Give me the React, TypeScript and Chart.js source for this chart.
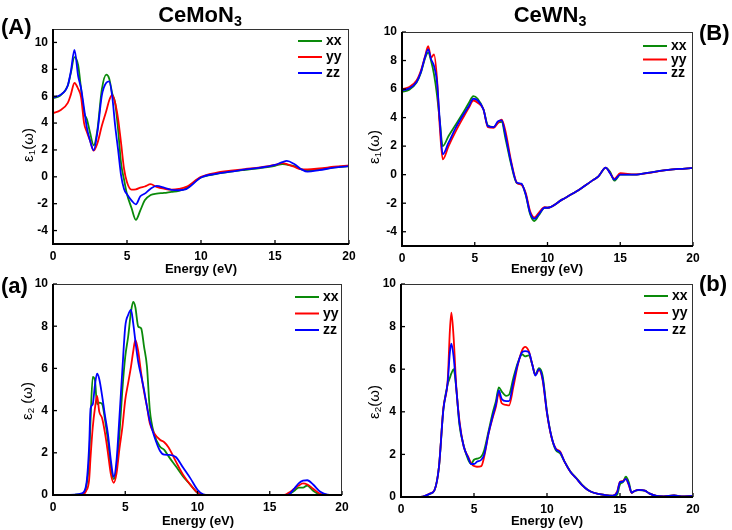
import React, { useEffect, useRef } from 'react';
import { Chart, registerables } from 'chart.js';
Chart.register(...registerables);

// ---------- DATA ----------
const seriesLabels = ['xx', 'yy', 'zz'];
const seriesColors = ['#0a8a0a', '#ff0000', '#0000ff'];
const xTickValues = [0, 5, 10, 15, 20];
const eps1Ticks = [-4, -2, 0, 2, 4, 6, 8, 10];
const eps2Ticks = [0, 2, 4, 6, 8, 10];

// (A) CeMoN3, epsilon_1
const energyA = [0, 0.5, 1.0, 1.2, 1.45, 1.7, 1.9, 2.1, 2.3, 2.5, 2.75, 3.0, 3.3, 3.6, 3.8, 4.0, 4.2, 4.4, 4.6, 4.8, 5.0, 5.3, 5.6, 5.9, 6.2, 6.6, 7.0, 7.5, 8.0, 8.5, 9.0, 10, 11, 12, 13, 14, 15, 15.5, 15.8, 16.3, 16.8, 17.2, 18, 19, 20];
const xxA = [5.85, 6.05, 6.8, 7.7, 8.9, 8.3, 6.5, 4.8, 4.25, 3.3, 2.35, 3.5, 6.5, 7.6, 7.3, 6.2, 5.5, 3.5, 1.0, -0.2, -1.3, -2.3, -3.2, -2.5, -1.75, -1.35, -1.25, -1.2, -1.12, -1.05, -0.85, -0.05, 0.2, 0.38, 0.52, 0.65, 0.82, 0.95, 0.9, 0.8, 0.55, 0.45, 0.55, 0.7, 0.8];
const yyA = [4.75, 4.95, 5.5, 6.1, 6.98, 6.55, 5.9, 4.0, 3.3, 2.7, 1.95, 2.5, 3.8, 4.9, 5.7, 6.1, 5.5, 4.3, 2.5, 0.6, -0.4, -0.95, -0.93, -0.8, -0.72, -0.55, -0.75, -0.88, -0.95, -0.9, -0.75, 0.0, 0.3, 0.45, 0.58, 0.7, 0.88, 1.02, 0.95, 0.75, 0.55, 0.55, 0.62, 0.75, 0.85];
const zzA = [5.9, 6.1, 6.8, 7.8, 9.45, 7.5, 6.56, 5.07, 3.58, 2.71, 1.97, 3.33, 6.06, 7.0, 7.1, 6.0, 3.8, 2.0, 0.11, -0.9, -1.3, -1.75, -2.05, -1.45, -1.25, -0.88, -0.68, -0.8, -0.97, -1.0, -0.92, -0.05, 0.22, 0.38, 0.55, 0.68, 0.88, 1.1, 1.18, 0.95, 0.55, 0.38, 0.5, 0.68, 0.8];

// (B) CeWN3, epsilon_1
const energyB = [0, 0.5, 1.0, 1.3, 1.6, 1.8, 2.0, 2.2, 2.4, 2.6, 2.8, 3.2, 3.7, 4.2, 4.6, 4.9, 5.2, 5.6, 5.9, 6.3, 6.6, 6.85, 7.1, 7.5, 7.9, 8.2, 8.5, 8.8, 9.1, 9.4, 9.8, 10, 11, 12, 13, 13.5, 14, 14.3, 14.6, 15, 16, 17, 18, 19, 20];
const xxB = [5.8, 5.95, 6.45, 7.15, 8.2, 8.55, 7.96, 7.03, 5.63, 3.75, 2.0, 2.71, 3.52, 4.34, 5.04, 5.51, 5.32, 4.57, 3.45, 3.33, 3.64, 3.7, 2.59, 0.72, -0.6, -0.65, -1.4, -2.75, -3.25, -2.85, -2.32, -2.32, -1.75, -1.17, -0.47, -0.12, 0.48, 0.2, -0.42, 0.0, 0.0, 0.15, 0.3, 0.4, 0.47];
const yyB = [6.0, 6.15, 6.6, 7.3, 8.35, 9.01, 8.2, 8.43, 6.8, 3.3, 1.07, 2.0, 3.05, 3.99, 4.7, 5.2, 5.04, 4.57, 3.33, 3.29, 3.64, 3.85, 3.1, 0.95, -0.57, -0.7, -1.27, -2.55, -3.0, -2.67, -2.28, -2.32, -1.75, -1.17, -0.47, -0.12, 0.5, 0.1, -0.3, 0.1, 0.02, 0.12, 0.3, 0.4, 0.47];
const zzB = [5.9, 6.05, 6.5, 7.2, 8.3, 8.78, 8.09, 7.62, 6.56, 3.75, 1.42, 2.24, 3.3, 4.18, 4.81, 5.32, 5.2, 4.57, 3.4, 3.33, 3.75, 3.8, 2.82, 0.84, -0.57, -0.63, -1.38, -2.66, -3.09, -2.79, -2.32, -2.32, -1.75, -1.17, -0.47, -0.12, 0.5, 0.1, -0.35, 0.0, 0.0, 0.15, 0.3, 0.4, 0.47];

// (a) CeMoN3, epsilon_2
const energyLa = [1.0, 1.5, 2.0, 2.3, 2.5, 2.6, 2.75, 2.9, 3.05, 3.2, 3.4, 3.6, 3.8, 4.0, 4.2, 4.4, 4.6, 4.8, 5.0, 5.2, 5.4, 5.55, 5.7, 5.9, 6.1, 6.3, 6.5, 6.7, 7.0, 7.4, 7.7, 8.0, 8.5, 9.0, 9.5, 10.0, 10.4, 10.8, 12, 14, 16, 16.3, 16.7, 17.0, 17.3, 17.6, 18.0, 18.5, 19.0, 20];
const xxLa = [0, 0.01, 0.05, 0.4, 1.67, 3.56, 5.6, 5.45, 4.3, 4.38, 4.32, 3.56, 2.6, 1.35, 0.75, 1.3, 2.9, 4.98, 6.56, 7.5, 8.69, 9.15, 8.9, 7.98, 7.9, 7.03, 6.1, 4.04, 2.9, 2.3, 2.14, 1.83, 1.36, 0.88, 0.49, 0.1, 0.01, 0, 0, 0, 0, 0.03, 0.2, 0.35, 0.35, 0.45, 0.2, 0.02, 0, 0];
const yyLa = [0, 0, 0.02, 0.2, 0.72, 1.8, 3.2, 4.1, 4.7, 3.95, 3.64, 2.93, 2.0, 1.0, 0.58, 1.04, 2.2, 3.2, 4.51, 5.3, 6.1, 6.8, 7.35, 6.8, 5.77, 4.9, 4.2, 3.4, 2.93, 2.62, 2.5, 2.25, 1.59, 0.96, 0.49, 0.12, 0.01, 0, 0, 0, 0, 0.1, 0.3, 0.45, 0.55, 0.5, 0.3, 0.05, 0, 0];
const zzLa = [0, 0.02, 0.08, 0.49, 2.3, 4.1, 4.3, 5.2, 5.75, 5.5, 4.7, 3.75, 2.9, 1.67, 0.85, 1.67, 3.72, 5.93, 7.98, 8.53, 8.77, 8.14, 7.3, 6.3, 5.65, 4.98, 4.2, 3.5, 2.8, 2.1, 1.91, 1.9, 1.8, 1.3, 0.8, 0.25, 0.03, 0, 0, 0, 0, 0.02, 0.3, 0.55, 0.68, 0.7, 0.5, 0.15, 0.02, 0];

// (b) CeWN3, epsilon_2
const energyLb = [1.0, 1.5, 2.0, 2.3, 2.6, 2.9, 3.2, 3.35, 3.45, 3.6, 3.8, 4.0, 4.3, 4.6, 4.8, 5.0, 5.2, 5.5, 5.7, 6.0, 6.3, 6.5, 6.7, 6.9, 7.2, 7.4, 7.7, 8.0, 8.3, 8.5, 8.75, 9.0, 9.2, 9.45, 9.7, 10.0, 10.3, 10.6, 10.9, 11.2, 11.6, 12.0, 12.4, 12.8, 13.2, 14.0, 14.5, 14.8, 15.0, 15.2, 15.4, 15.6, 15.8, 16.0, 16.3, 16.7, 17.0, 17.5, 18.0, 18.7, 19.2, 20];
const xxLb = [0, 0.02, 0.15, 0.33, 1.4, 4.1, 5.3, 5.6, 5.8, 6.0, 5.0, 3.4, 2.4, 1.75, 1.55, 1.75, 1.8, 1.9, 2.2, 3.1, 4.0, 4.5, 5.15, 4.95, 4.75, 4.8, 5.6, 6.3, 6.7, 6.6, 6.65, 6.2, 5.75, 6.05, 5.7, 4.0, 2.85, 2.2, 2.05, 1.66, 1.2, 0.9, 0.58, 0.33, 0.2, 0.09, 0.05, 0.1, 0.6, 0.7, 0.95, 0.7, 0.2, 0.28, 0.32, 0.3, 0.17, 0.05, 0.03, 0.07, 0.03, 0.05];
const yyLb = [0, 0.02, 0.17, 0.33, 1.42, 4.16, 5.49, 7.84, 8.65, 7.53, 5.02, 3.6, 2.36, 1.89, 1.6, 1.45, 1.42, 1.45, 1.9, 2.99, 3.77, 4.24, 4.87, 4.4, 4.32, 4.3, 5.18, 6.2, 6.9, 7.05, 6.85, 6.2, 5.73, 5.96, 5.49, 3.93, 2.83, 2.28, 2.13, 1.66, 1.19, 0.88, 0.56, 0.33, 0.2, 0.09, 0.06, 0.25, 0.72, 0.75, 0.85, 0.56, 0.19, 0.28, 0.33, 0.3, 0.17, 0.05, 0.03, 0.07, 0.03, 0.05];
const zzLb = [0, 0.02, 0.16, 0.33, 1.42, 4.1, 5.4, 6.8, 7.2, 6.6, 5.0, 3.5, 2.36, 1.85, 1.55, 1.55, 1.65, 1.75, 2.0, 3.0, 3.85, 4.35, 5.0, 4.6, 4.5, 4.5, 5.4, 6.25, 6.8, 6.85, 6.8, 6.2, 5.7, 6.0, 5.55, 3.95, 2.85, 2.25, 2.1, 1.66, 1.19, 0.88, 0.56, 0.33, 0.2, 0.09, 0.06, 0.2, 0.7, 0.72, 0.85, 0.6, 0.2, 0.28, 0.33, 0.3, 0.17, 0.05, 0.03, 0.07, 0.03, 0.05];

// ---------- PLUGINS ----------
const FONT = '"Liberation Sans", Arial, sans-serif';

const framePlugin = {
  id: 'frameTicks',
  afterDraw(chart: any) {
    const { ctx, chartArea: a, scales } = chart;
    ctx.save();
    ctx.strokeStyle = '#000';
    ctx.lineWidth = 1.3;
    scales.x.ticks.forEach((t: any) => {
      const px = scales.x.getPixelForValue(t.value);
      ctx.beginPath();
      ctx.moveTo(px, a.bottom);
      ctx.lineTo(px, a.bottom - 4);
      ctx.stroke();
    });
    scales.y.ticks.forEach((t: any) => {
      const py = scales.y.getPixelForValue(t.value);
      ctx.beginPath();
      ctx.moveTo(a.left, py);
      ctx.lineTo(a.left + 4, py);
      ctx.stroke();
    });
    ctx.strokeStyle = '#333';
    ctx.lineWidth = 1;
    ctx.strokeRect(a.left, a.top + 0.5, a.right - a.left - 0.5, a.bottom - a.top);
    ctx.strokeStyle = '#000';
    ctx.lineWidth = 2;
    ctx.beginPath();
    ctx.moveTo(a.left, a.top);
    ctx.lineTo(a.left, a.bottom);
    ctx.lineTo(a.right, a.bottom);
    ctx.stroke();
    ctx.restore();
  },
};

const legendPlugin = {
  id: 'insideLegend',
  afterDraw(chart: any, _args: any, opts: any) {
    const { ctx, chartArea: a } = chart;
    ctx.save();
    chart.data.datasets.forEach((ds: any, i: number) => {
      const y = a.top + opts.top + i * opts.gap;
      const x0 = a.right - opts.right;
      ctx.strokeStyle = ds.borderColor;
      ctx.lineWidth = 2;
      ctx.beginPath();
      ctx.moveTo(x0, y);
      ctx.lineTo(x0 + 24, y);
      ctx.stroke();
      ctx.fillStyle = '#000';
      ctx.font = `bold ${opts.size}px ${FONT}`;
      ctx.textBaseline = 'middle';
      ctx.textAlign = 'left';
      ctx.fillText(ds.label, x0 + 28, y + 0.5);
    });
    ctx.restore();
  },
};

// ---------- PANEL ----------
type Box = { left: number; top: number; w: number; h: number };
type Area = { l: number; t: number; r: number; b: number };

function Panel(p: {
  box: Box; area: Area; energy: number[]; series: number[][];
  yMin: number; yMax: number; yTicks: number[];
  legend: { right: number; top: number; gap: number; size: number };
}) {
  const ref = useRef<HTMLCanvasElement>(null);
  useEffect(() => {
    const yW = 30, xH = 30;
    const pad = {
      left: p.area.l - p.box.left - yW,
      top: p.area.t - p.box.top,
      right: p.box.left + p.box.w - p.area.r,
      bottom: p.box.top + p.box.h - p.area.b - xH,
    };
    const tickFont = { family: FONT, size: 12, weight: 'bold' as const };
    const chart = new Chart(ref.current as HTMLCanvasElement, {
      type: 'line',
      data: {
        datasets: p.series.map((vals, i) => ({
          label: seriesLabels[i],
          data: p.energy.map((e, j) => ({ x: e, y: vals[j] })),
          borderColor: seriesColors[i],
          backgroundColor: seriesColors[i],
          borderWidth: 1.8,
          pointRadius: 0,
          cubicInterpolationMode: 'monotone' as const,
          fill: false,
          order: 2 - i,
        })),
      },
      options: {
        animation: false,
        responsive: false,
        maintainAspectRatio: false,
        devicePixelRatio: 1,
        layout: { padding: pad },
        plugins: {
          legend: { display: false },
          tooltip: { enabled: false },
          insideLegend: p.legend,
        } as any,
        scales: {
          x: {
            type: 'linear',
            min: 0,
            max: 20,
            afterBuildTicks: (ax: any) => { ax.ticks = xTickValues.map((v) => ({ value: v })); },
            afterFit: (s: any) => { s.height = xH; },
            grid: { display: false, drawTicks: false, tickLength: 0 },
            border: { display: false },
            ticks: { font: tickFont, color: '#000', padding: 5, maxRotation: 0, autoSkip: false },
          },
          y: {
            type: 'linear',
            min: p.yMin,
            max: p.yMax,
            afterBuildTicks: (ax: any) => { ax.ticks = p.yTicks.map((v) => ({ value: v })); },
            afterFit: (s: any) => { s.width = yW; },
            grid: { display: false, drawTicks: false, tickLength: 0 },
            border: { display: false },
            ticks: { font: tickFont, color: '#000', padding: 5, autoSkip: false },
          },
        },
      } as any,
      plugins: [framePlugin, legendPlugin],
    });
    return () => chart.destroy();
  }, []);
  return (
    <canvas
      ref={ref}
      width={p.box.w}
      height={p.box.h}
      style={{ position: 'absolute', left: p.box.left, top: p.box.top, width: p.box.w, height: p.box.h }}
    />
  );
}

function Label(props: { x: number; y: number; size: number; bold?: boolean; rotate?: boolean; align?: 'center' | 'left'; children: any }) {
  const tx = props.align === 'left' ? '0' : '-50%';
  return (
    <div
      style={{
        position: 'absolute',
        left: props.x,
        top: props.y,
        transform: `translate(${tx}, -50%)${props.rotate ? ' rotate(-90deg)' : ''}`,
        fontFamily: FONT,
        fontSize: props.size,
        fontWeight: props.bold ? 'bold' : 'normal',
        lineHeight: 1,
        whiteSpace: 'nowrap',
        color: '#000',
      }}
    >
      {props.children}
    </div>
  );
}

const subStyle: React.CSSProperties = { fontSize: '0.65em', verticalAlign: '-0.3em', lineHeight: 0 };

export default function App() {
  return (
    <div style={{ position: 'absolute', left: 0, top: 0, width: 732, height: 530, background: '#fff', overflow: 'hidden' }}>
      <Panel
        box={{ left: 0, top: 0, w: 366, h: 282 }}
        area={{ l: 53, t: 29, r: 349, b: 244 }}
        energy={energyA}
        series={[xxA, yyA, zzA]}
        yMin={-5} yMax={11} yTicks={eps1Ticks}
        legend={{ right: 51, top: 12, gap: 16, size: 14 }}
      />
      <Panel
        box={{ left: 366, top: 0, w: 366, h: 282 }}
        area={{ l: 402, t: 32, r: 693, b: 246 }}
        energy={energyB}
        series={[xxB, yyB, zzB]}
        yMin={-5} yMax={10} yTicks={eps1Ticks}
        legend={{ right: 50, top: 14, gap: 13.5, size: 14 }}
      />
      <Panel
        box={{ left: 0, top: 268, w: 366, h: 262 }}
        area={{ l: 53, t: 284, r: 342, b: 495 }}
        energy={energyLa}
        series={[xxLa, yyLa, zzLa]}
        yMin={0} yMax={10} yTicks={eps2Ticks}
        legend={{ right: 47, top: 13, gap: 16.5, size: 14 }}
      />
      <Panel
        box={{ left: 366, top: 268, w: 366, h: 262 }}
        area={{ l: 401, t: 284, r: 693, b: 497 }}
        energy={energyLb}
        series={[xxLb, yyLb, zzLb]}
        yMin={0} yMax={10} yTicks={eps2Ticks}
        legend={{ right: 49, top: 12, gap: 17, size: 14 }}
      />

      <Label x={200} y={15} size={22} bold>CeMoN<span style={subStyle}>3</span></Label>
      <Label x={550} y={15} size={22} bold>CeWN<span style={subStyle}>3</span></Label>

      <Label x={1} y={27} size={22} bold align="left">(A)</Label>
      <Label x={699} y={33} size={22} bold align="left">(B)</Label>
      <Label x={1} y={286} size={22} bold align="left">(a)</Label>
      <Label x={699} y={284} size={22} bold align="left">(b)</Label>

      <Label x={201} y={268} size={13} bold>Energy (eV)</Label>
      <Label x={547} y={268} size={13} bold>Energy (eV)</Label>
      <Label x={198} y={520} size={13} bold>Energy (eV)</Label>
      <Label x={547} y={520} size={13} bold>Energy (eV)</Label>

      <Label x={27} y={145} size={15} rotate>ε<span style={subStyle}>1</span>(ω)</Label>
      <Label x={373} y={147} size={15} rotate>ε<span style={subStyle}>1</span>(ω)</Label>
      <Label x={26} y={401} size={15} rotate>ε<span style={subStyle}>2</span> (ω)</Label>
      <Label x={373} y={402} size={15} rotate>ε<span style={subStyle}>2</span>(ω)</Label>
    </div>
  );
}
